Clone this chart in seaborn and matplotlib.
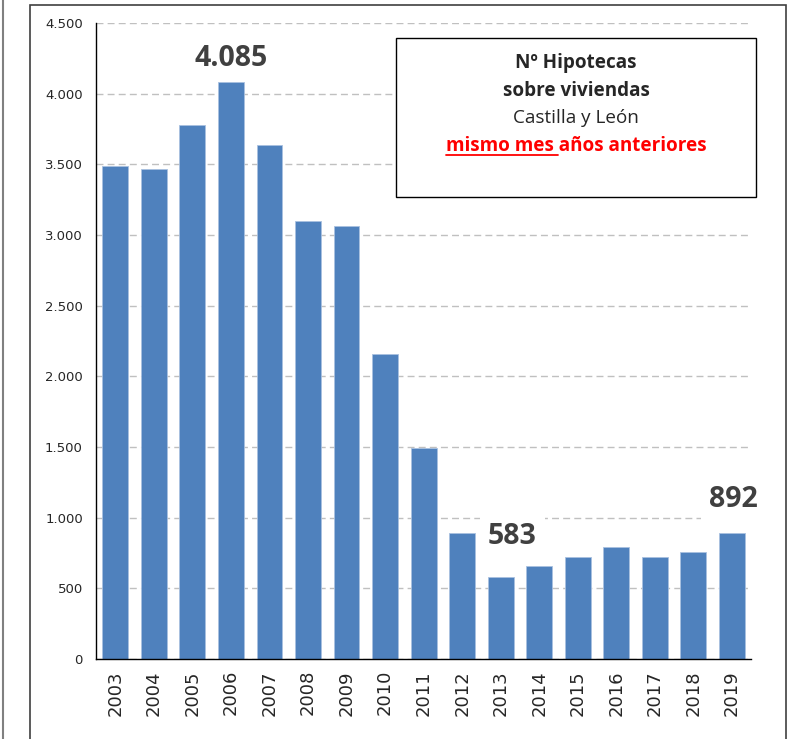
import numpy as np
import pandas as pd
import matplotlib
matplotlib.use("Agg")
import matplotlib.pyplot as plt
import matplotlib.ticker as mticker
from matplotlib.patches import Rectangle
from matplotlib.lines import Line2D
import seaborn as sns

# Datos: hipotecas sobre viviendas, Castilla y León, mismo mes
years = ["2003", "2004", "2005", "2006", "2007", "2008", "2009", "2010", "2011",
         "2012", "2013", "2014", "2015", "2016", "2017", "2018", "2019"]
hipotecas = [3490, 3470, 3780, 4085, 3640, 3100, 3065, 2160, 1495,
             890, 583, 655, 725, 790, 725, 760, 892]
highlight_years = ["2006", "2013", "2019"]

df = pd.DataFrame({"year": years, "n": hipotecas})

sns.set_style("white")
plt.rcParams["font.family"] = ["DejaVu Sans"]

fig = plt.figure(figsize=(7.97, 7.39), dpi=100)
ax = fig.add_axes([0.1205, 0.1083, 0.822, 0.8606])

sns.barplot(data=df, x="year", y="n", color="#4F81BD", saturation=1, width=0.67,
            edgecolor="#A9C1E0", linewidth=0.6, ax=ax)

ax.set_ylim(0, 4500)
ax.set_xlim(-0.5, len(years) - 0.5)
ax.set_xlabel("")
ax.set_ylabel("")

# eje y
ax.yaxis.set_major_locator(mticker.MultipleLocator(500))
ax.yaxis.set_minor_locator(mticker.MultipleLocator(250))
ax.yaxis.set_major_formatter(mticker.FuncFormatter(lambda v, p: f"{int(v):,}".replace(",", ".")))
ax.tick_params(axis="y", which="major", direction="inout", length=9, width=1, labelsize=9.5, pad=5)
ax.tick_params(axis="y", which="minor", direction="inout", length=7, width=1)

# eje x: marcas entre categorías
ax.set_xticks(np.arange(len(years)))
ax.set_xticklabels(years, rotation=90, fontsize=13)
ax.set_xticks(np.arange(len(years) + 1) - 0.5, minor=True)
ax.tick_params(axis="x", which="major", length=0, pad=8)
ax.tick_params(axis="x", which="minor", direction="out", length=7, width=1)

for s in ["top", "right"]:
    ax.spines[s].set_visible(False)
for s in ["left", "bottom"]:
    ax.spines[s].set_color("black")
    ax.spines[s].set_linewidth(1)

ax.set_axisbelow(True)
ax.yaxis.grid(True, color="#C0C0C0", linestyle=(0, (5, 3)), linewidth=1)

# etiquetas destacadas
label_pos = {"2006": (3.0, 4250), "2013": (10.3, 870), "2019": (16.05, 1130)}
for y in highlight_years:
    i = years.index(y)
    x, yy = label_pos[y]
    ax.text(x, yy, f"{hipotecas[i]:,}".replace(",", "."), ha="center", va="center",
            fontsize=20.5, fontweight="bold", color="#404040", family="Open Sans",
            bbox=dict(facecolor="white", edgecolor="none", pad=6))

# cuadro de título
fig.patches.append(Rectangle((396 / 797, 1 - 197 / 739), 360 / 797, 159 / 739,
                             transform=fig.transFigure, facecolor="white",
                             edgecolor="black", linewidth=1, zorder=3))
cx = 576 / 797
fs = 13.6
fig.text(cx, 1 - 63 / 739, "Nº Hipotecas", ha="center", va="center", fontsize=fs,
         fontweight="bold", family="Open Sans", zorder=4)
fig.text(cx, 1 - 91 / 739, "sobre viviendas", ha="center", va="center", fontsize=fs,
         fontweight="bold", family="Open Sans", zorder=4)
fig.text(cx, 1 - 118 / 739, "Castilla y León", ha="center", va="center", fontsize=fs,
         family="Open Sans", zorder=4)
red = fig.text(cx, 1 - 146 / 739, "mismo mes años anteriores", ha="center", va="center",
               fontsize=fs, fontweight="bold", color="#FF0000", family="Open Sans", zorder=4)

# subrayado de "mismo mes "
renderer = fig.canvas.get_renderer()
bb = red.get_window_extent(renderer)
part = fig.text(0, 0, "mismo mes ", fontsize=fs, fontweight="bold", family="Open Sans")
pw = part.get_window_extent(renderer).width
part.remove()
W, H = fig.bbox.width, fig.bbox.height
uy = (bb.y0 + 1) / H
fig.lines.append(Line2D([bb.x0 / W, (bb.x0 + pw) / W], [uy, uy], transform=fig.transFigure,
                        color="#FF0000", linewidth=1.3, zorder=4))

# marco exterior
fig.patches.append(Rectangle((30 / 797, -0.01), 756 / 797, 1 - 5 / 739 + 0.01,
                             transform=fig.transFigure, facecolor="none",
                             edgecolor="#404040", linewidth=1.2))
fig.lines.append(Line2D([2.5 / 797, 2.5 / 797], [0, 1], transform=fig.transFigure,
                        color="#808080", linewidth=1.5))

fig.savefig("out.png", dpi=100)
